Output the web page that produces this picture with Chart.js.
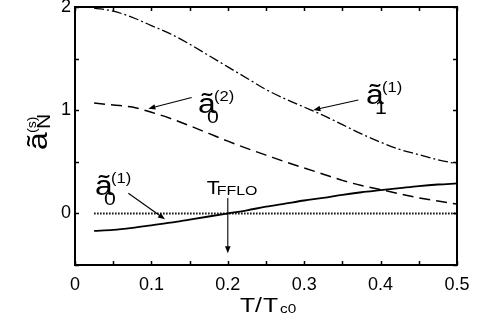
<!DOCTYPE html>
<html>
<head>
<meta charset="utf-8">
<script src="https://cdn.jsdelivr.net/npm/chart.js@4.4.1/dist/chart.umd.min.js"></script>
<style>
html,body{margin:0;padding:0;background:#fff;}
#wrap{width:477px;height:335px;}
</style>
</head>
<body>
<div id="wrap"><canvas id="c" width="477" height="335"></canvas></div>
<script>
// ---- data ----
const xValues = [0.025,0.05,0.075,0.1,0.125,0.15,0.175,0.2,0.225,0.25,0.275,0.3,0.325,0.35,0.375,0.4,0.425,0.45,0.475,0.5];
const a1_1 = [1.99,1.96,1.90,1.82,1.74,1.64,1.53,1.42,1.31,1.20,1.11,1.03,0.95,0.86,0.77,0.69,0.62,0.57,0.52,0.48];
const a0_2 = [1.07,1.05,1.03,0.98,0.92,0.85,0.775,0.70,0.63,0.565,0.50,0.44,0.38,0.32,0.27,0.23,0.19,0.15,0.12,0.09];
const a0_1 = [-0.17,-0.16,-0.14,-0.115,-0.09,-0.06,-0.03,0.0,0.03,0.065,0.095,0.125,0.15,0.18,0.205,0.225,0.245,0.265,0.28,0.29];
const refX = [0.025, 0.5];
const refY = [0, 0];
const xTickLabels = ['0','0.1','0.2','0.3','0.4','0.5'];
const yTickLabels = ['0','1','2'];

const FONT = '"Liberation Sans", Arial, Helvetica, sans-serif';
const STRETCH = 1.18;

function pts(xs, ys){ return xs.map((x,i)=>({x:x, y:ys[i]})); }

// annotation layout (data coordinates)
const labelDefs = [
  {x:0.0262, y:0.178, parts:[['ã',27,0,0],['0',18,9,10],['(1)',14,16,-12]]},
  {x:0.161,  y:0.973, parts:[['ã',27,0,0],['0',18,9,10],['(2)',14,16,-12]]},
  {x:0.381,  y:1.06,  parts:[['ã',27,0,0],['1',18,9,10],['(1)',14,16,-12]]},
  {x:0.1724, y:0.188, parts:[['T',18,0,0],['FFLO',13.5,10,1]]}
];
const arrowDefs = [
  {x1:0.1527, y1:1.123, x2:0.096, y2:1.015},
  {x1:0.3708, y1:1.099, x2:0.312, y2:1.002},
  {x1:0.0698, y1:0.195, x2:0.1178, y2:-0.057},
  {x1:0.2, y1:0.15, x2:0.2, y2:-0.385}
];

function run(ctx, text, x, y, size){
  ctx.save();
  ctx.translate(x, y);
  ctx.scale(STRETCH, 1);
  ctx.font = size + 'px ' + FONT;
  ctx.textAlign = 'left';
  ctx.textBaseline = 'alphabetic';
  ctx.fillStyle = '#000';
  ctx.fillText(text, 0, 0);
  ctx.restore();
}
function arrow(ctx, x1, y1, x2, y2){
  const ang = Math.atan2(y2-y1, x2-x1);
  const L = 7, W = 2.8;
  ctx.save();
  ctx.strokeStyle = '#000'; ctx.fillStyle = '#000'; ctx.lineWidth = 1.1;
  ctx.beginPath();
  ctx.moveTo(x1, y1);
  ctx.lineTo(x2 - Math.cos(ang)*L*0.8, y2 - Math.sin(ang)*L*0.8);
  ctx.stroke();
  ctx.beginPath();
  ctx.moveTo(x2, y2);
  ctx.lineTo(x2 - Math.cos(ang)*L - Math.sin(ang)*W, y2 - Math.sin(ang)*L + Math.cos(ang)*W);
  ctx.lineTo(x2 - Math.cos(ang)*L + Math.sin(ang)*W, y2 - Math.sin(ang)*L - Math.cos(ang)*W);
  ctx.closePath();
  ctx.fill();
  ctx.restore();
}

const decorPlugin = {
  id: 'decor',
  afterDraw(chart){
    const ctx = chart.ctx;
    const a = chart.chartArea;
    const xs = chart.scales.x, ys = chart.scales.y;
    ctx.save();
    // frame
    ctx.strokeStyle = '#000';
    ctx.lineWidth = 2;
    ctx.strokeRect(a.left, a.top, a.right - a.left, a.bottom - a.top);
    // inward ticks
    ctx.lineWidth = 1.5;
    const TL = 4;
    ctx.beginPath();
    xs.ticks.forEach(t => {
      const p = Math.round(xs.getPixelForValue(t.value)) + 0.5;
      ctx.moveTo(p, a.bottom); ctx.lineTo(p, a.bottom - TL);
      ctx.moveTo(p, a.top); ctx.lineTo(p, a.top + TL);
    });
    ys.ticks.forEach(t => {
      const p = Math.round(ys.getPixelForValue(t.value)) + 0.5;
      ctx.moveTo(a.left, p); ctx.lineTo(a.left + TL, p);
      ctx.moveTo(a.right, p); ctx.lineTo(a.right - TL, p);
    });
    ctx.stroke();
    ctx.restore();

    // annotations
    labelDefs.forEach(d => {
      const bx = xs.getPixelForValue(d.x), by = ys.getPixelForValue(d.y);
      d.parts.forEach(p => run(ctx, p[0], bx + p[2], by + p[3], p[1]));
    });
    arrowDefs.forEach(d => arrow(ctx,
      xs.getPixelForValue(d.x1), ys.getPixelForValue(d.y1),
      xs.getPixelForValue(d.x2), ys.getPixelForValue(d.y2)));

    // x axis title  T/T_c0
    const cx = (a.left + a.right) / 2;
    const bl = a.bottom + 47;
    run(ctx, 'T', cx - 26, bl, 21);
    run(ctx, '/', cx - 11, bl, 21);
    run(ctx, 'T', cx - 3, bl, 21);
    run(ctx, 'c0', cx + 14, bl + 1, 13);

    // y axis title  ã_N^(s) rotated
    ctx.save();
    ctx.translate(a.left - 28, (a.top + a.bottom) / 2 + 14);
    ctx.rotate(-Math.PI / 2);
    run(ctx, 'ã', 0, 0, 27);
    run(ctx, '(s)', 17, -11, 12);
    run(ctx, 'N', 21, 3, 18);
    ctx.restore();
  }
};

Chart.defaults.color = '#000';
Chart.defaults.font.family = FONT;

new Chart(document.getElementById('c'), {
  type: 'line',
  data: {
    datasets: [
      {data: pts(xValues, a1_1), borderColor:'#000', borderWidth:1.3, borderDash:[10,3,2,3], pointRadius:0, cubicInterpolationMode:'monotone', fill:false},
      {data: pts(xValues, a0_2), borderColor:'#000', borderWidth:1.5, borderDash:[11,6], pointRadius:0, cubicInterpolationMode:'monotone', fill:false},
      {data: pts(xValues, a0_1), borderColor:'#000', borderWidth:1.8, pointRadius:0, cubicInterpolationMode:'monotone', fill:false},
      {data: pts(refX, refY), borderColor:'#000', borderWidth:2, borderDash:[1.5,1.5], pointRadius:0, fill:false}
    ]
  },
  options: {
    responsive: false,
    devicePixelRatio: 1,
    animation: false,
    layout: {padding: {top: 7, right: 20, left: 0, bottom: 0}},
    plugins: {legend: {display: false}, tooltip: {enabled: false}},
    scales: {
      x: {
        type: 'linear', min: 0, max: 0.5,
        grid: {display: false, drawTicks: false},
        border: {display: false},
        ticks: {
          stepSize: 0.05, padding: 9, maxRotation: 0, autoSkip: false,
          font: {size: 18, family: FONT},
          callback: function(v){
            const k = Math.round(v * 10);
            if (Math.abs(v * 10 - k) < 1e-6) return xTickLabels[k];
            return '';
          }
        },
        afterFit(s){ s.height = 70; s.paddingLeft = 0; s.paddingRight = 0; }
      },
      y: {
        min: -0.5, max: 2,
        grid: {display: false, drawTicks: false},
        border: {display: false},
        ticks: {
          stepSize: 0.5, padding: 4, autoSkip: false,
          font: {size: 18, family: FONT},
          callback: function(v){
            const k = Math.round(v);
            if (Math.abs(v - k) < 1e-6 && k >= 0) return yTickLabels[k];
            return '';
          }
        },
        afterFit(s){ s.width = 75; s.paddingTop = 0; s.paddingBottom = 0; }
      }
    }
  },
  plugins: [decorPlugin]
});
</script>
</body>
</html>
